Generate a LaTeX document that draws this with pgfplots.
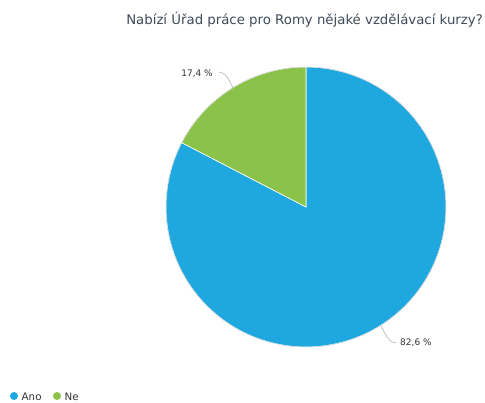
\documentclass[border=0pt]{standalone}
\usepackage{pgfplots}
\pgfplotsset{compat=1.18}
\usepackage{fontspec}
\setmainfont{DejaVu Sans}
\definecolor{cblue}{HTML}{1FA8E0}
\definecolor{cgreen}{HTML}{8BC34A}
\definecolor{ctitle}{HTML}{3D4A5A}
\definecolor{ctext}{HTML}{333333}
\begin{document}
\begin{tikzpicture}
\path[use as bounding box] (0,0) rectangle (485bp,403bp);
\begin{axis}[
  at={(0,0)}, anchor=south west,
  x=1bp, y=1bp, xmin=0, xmax=485, ymin=0, ymax=403,
  hide axis, clip=false,
]
% data: Ano 82.6, Ne 17.4 ; centre (306,196), radius 140
\def\cx{306}\def\cy{196}\def\R{140}
\addplot[fill=cblue, draw=white, line width=0.6pt, domain=90+17.4*3.6:450, samples=200]
  ({\cx+\R*cos(x)},{\cy+\R*sin(x)}) -- (axis cs:\cx,\cy) -- cycle;
\addplot[fill=cgreen, draw=white, line width=0.6pt, domain=90:90+17.4*3.6, samples=60]
  ({\cx+\R*cos(x)},{\cy+\R*sin(x)}) -- (axis cs:\cx,\cy) -- cycle;
\draw[gray!40, line width=0.4pt] (axis cs:\cx,\cy) circle[radius=\R];
% leader lines
\draw[gray!70, line width=0.5pt] (axis cs:219,331) .. controls (226,331) and (229,323) .. (233,315);
\draw[gray!70, line width=0.5pt] (axis cs:381,77) .. controls (386,68) and (389,60) .. (396,60);
\node[font=\fontsize{9bp}{11bp}\selectfont, text=ctext, anchor=east, inner sep=0pt] at (axis cs:213,329) {17,4 \%};
\node[font=\fontsize{9bp}{11bp}\selectfont, text=ctext, anchor=west, inner sep=0pt] at (axis cs:400,60) {82,6 \%};
% title
\node[font=\fontsize{13.3bp}{15bp}\selectfont, text=ctitle, anchor=east, inner sep=0pt] at (axis cs:483,383) {Nabízí Úřad práce pro Romy nějaké vzdělávací kurzy?};
% legend
\fill[cblue] (axis cs:14,7) circle[radius=4];
\node[font=\fontsize{10.3bp}{12bp}\selectfont, text=ctext, anchor=west, inner sep=0pt] at (axis cs:21.5,6.5) {Ano};
\fill[cgreen] (axis cs:57,7) circle[radius=4];
\node[font=\fontsize{10.3bp}{12bp}\selectfont, text=ctext, anchor=west, inner sep=0pt] at (axis cs:64.5,6.5) {Ne};
\end{axis}
\end{tikzpicture}
\end{document}
